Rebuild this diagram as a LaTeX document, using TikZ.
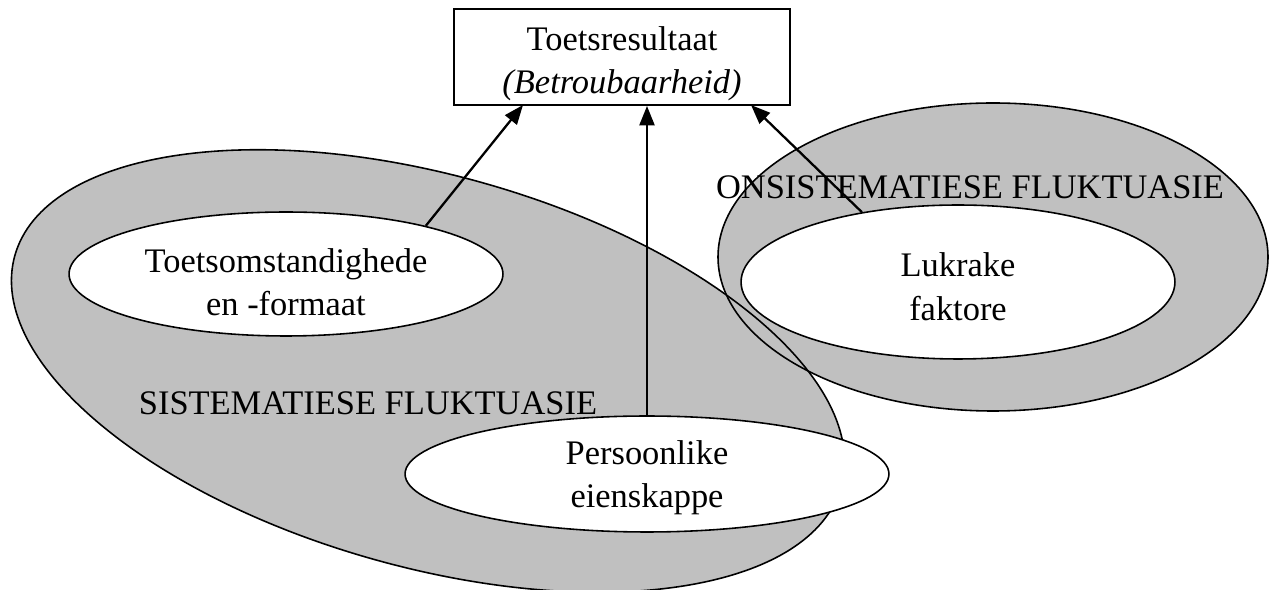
\documentclass[tikz,border=0pt]{standalone}
\usepackage{fontspec}
\setmainfont{Liberation Serif}
\usetikzlibrary{shapes.geometric,arrows.meta}
\definecolor{fluk}{RGB}{192,192,192}
\newcommand{\op}[1]{\rule{0pt}{#1}}

\begin{document}
\begin{tikzpicture}[x=0.02cm,y=-0.02cm,
  every node/.style={font=\fontsize{19.6}{24.5}\selectfont,align=center},
  wit/.style={ellipse,draw,fill=white,line width=0.9pt,inner sep=0pt},
  pyl/.style={-{Triangle[length=11pt,width=8.5pt]},line width=1.3pt}]
\useasboundingbox (0,0) rectangle (1275,590);
\fill[fluk,rotate around={-15.6:(428,371)}] (428,371) ellipse [x radius=429,y radius=196];
\fill[fluk] (993,257) ellipse [x radius=275,y radius=154];
\draw[line width=0.9pt,rotate around={-15.6:(428,371)}] (428,371) ellipse [x radius=429,y radius=196];
\draw[line width=0.9pt] (993,257) ellipse [x radius=275,y radius=154];
\node[draw,line width=1.1pt,inner ysep=0pt,minimum width=6.72cm,minimum height=1.92cm] (result) at (622,57)
  {\op{21pt}Toetsresultaat\\\textit{(Betroubaarheid)}};
\node[wit,minimum width=8.68cm,minimum height=2.48cm] (omstand) at (286,274)
  {\op{23pt}Toetsomstandighede\\en -formaat};
\node[wit,minimum width=9.68cm,minimum height=2.28cm] (persoon) at (647,474)
  {\op{18pt}Persoonlike\\eienskappe};
\node[wit,minimum width=8.68cm,minimum height=3.08cm] (lukrake) at (958,282)
  {\op{19pt}Lukrake\\faktore};
\node (sisfluk) at (368,403) {SISTEMATIESE FLUKTUASIE};
\node (onsisfluk) at (970,187) {ONSISTEMATIESE FLUKTUASIE};
\coordinate (pA) at (523,105);
\coordinate (pC) at (751,105);
\draw[pyl] (omstand.19) -- (pA);
\draw[pyl] (persoon.north) -- (persoon.north |- result.south);
\draw[pyl] (lukrake.144) -- (pC);
\end{tikzpicture}
\end{document}
